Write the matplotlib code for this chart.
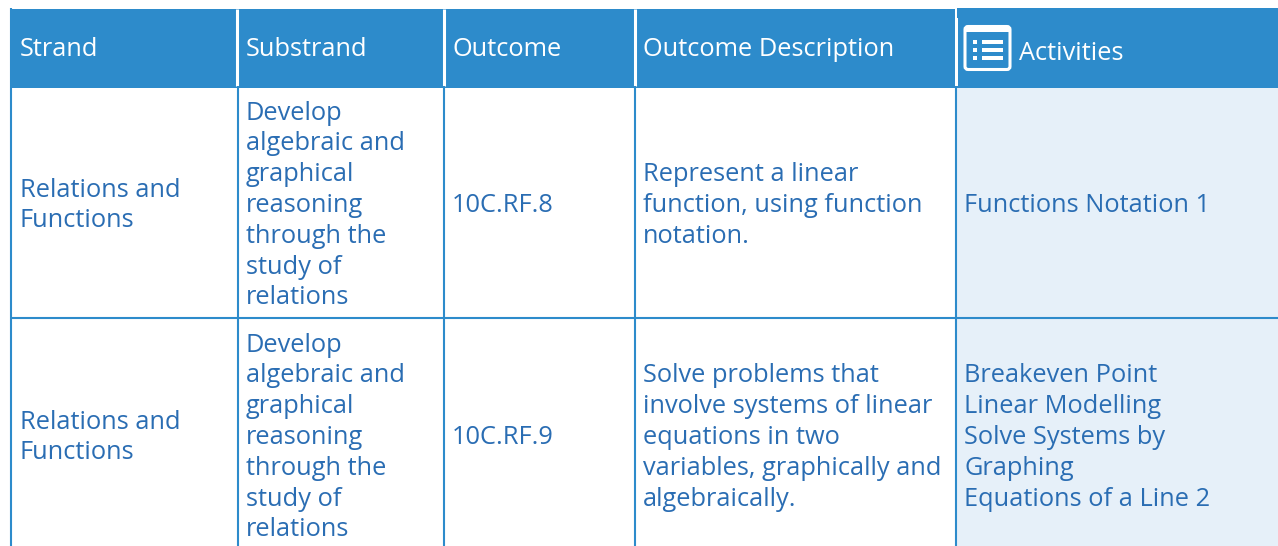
import matplotlib
matplotlib.use("Agg")
import matplotlib.pyplot as plt
from matplotlib.patches import Rectangle, FancyBboxPatch

FONT = "Open Sans"
HEAD_BLUE = "#2d8bcb"
LINE_BLUE = "#2d8bcb"
TEXT_BLUE = "#2a6db3"
PALE_BLUE = "#e6f0f9"

headers = ["Strand", "Substrand", "Outcome", "Outcome Description", "Activities"]
strand = [["Relations and", "Functions"], ["Relations and", "Functions"]]
substrand = [
    ["Develop", "algebraic and", "graphical", "reasoning", "through the", "study of", "relations"],
    ["Develop", "algebraic and", "graphical", "reasoning", "through the", "study of", "relations"],
]
outcome = [["10C.RF.8"], ["10C.RF.9"]]
description = [
    ["Represent a linear", "function, using function", "notation."],
    ["Solve problems that", "involve systems of linear", "equations in two", "variables, graphically and", "algebraically."],
]
activities = [
    ["Functions Notation 1"],
    ["Breakeven Point", "Linear Modelling", "Solve Systems by", "Graphing", "Equations of a Line 2"],
]

col_edges = [10, 238, 444, 635, 956, 1278]
white_x = [237, 443.5, 634.5]
text_x = [20, 246, 452, 643, 964]
head_top, head_bot = 9, 88
row_edges = [88, 318, 546]
row_mid = [203, 435]
pitch = 30.8
base_off = 9
size = 25.4 * 0.72
rule_lw = 1.5

fig = plt.figure(figsize=(12.78, 5.46), dpi=100)
ax = fig.add_axes([0, 0, 1, 1])
ax.set_xlim(0, 1278)
ax.set_ylim(546, 0)
ax.axis("off")

# Activities column background
ax.add_patch(Rectangle((col_edges[4], row_edges[0]), col_edges[5] - col_edges[4],
                       row_edges[2] - row_edges[0], fc=PALE_BLUE, ec="none"))
# Header band
ax.add_patch(Rectangle((col_edges[0], head_top), col_edges[5] - col_edges[0],
                       head_bot - head_top, fc=HEAD_BLUE, ec="none"))
ax.add_patch(Rectangle((957, 8), 321, 2, fc=HEAD_BLUE, ec="none"))

# Header separators (white) and body rules (blue)
for x in white_x:
    ax.plot([x, x], [head_top, 86], color="white", lw=2.2, solid_capstyle="butt")
ax.add_patch(Rectangle((955, 8), 2, 10, fc="white", ec="none"))
ax.add_patch(Rectangle((955, 18), 3, 68, fc="white", ec="none"))
ax.plot([11.3, 11.3], [8, 546], color=LINE_BLUE, lw=rule_lw, solid_capstyle="butt")
for x in col_edges[1:5]:
    ax.plot([x, x], [86, 546], color=LINE_BLUE, lw=rule_lw, solid_capstyle="butt")
ax.plot([10, 1278], [318, 318], color=LINE_BLUE, lw=rule_lw, solid_capstyle="butt")

# Header text
for i, (label, x) in enumerate(zip(headers, text_x)):
    tx = 1019 if i == 4 else x
    ty = 56 if i < 4 else 60
    ax.text(tx, ty, label, color="white", fontsize=size, family=FONT,
            va="baseline", ha="left")

# Icon
ax.add_patch(FancyBboxPatch((965, 26.5), 45, 43, boxstyle="round,pad=0,rounding_size=3",
                            fc="none", ec="white", lw=2.2))
ax.add_patch(Rectangle((965, 26.5), 45, 5, fc="white", ec="none"))
for y in (42, 50, 58):
    ax.add_patch(Rectangle((973, y - 1.6), 4, 3.2, fc="white", ec="none"))
    ax.add_patch(Rectangle((982, y - 1.6), 21, 3.2, fc="white", ec="none"))

# Body text
columns = [strand, substrand, outcome, description, activities]
for col, x in zip(columns, text_x):
    for r, lines in enumerate(col):
        for j, line in enumerate(lines):
            y = row_mid[r] + (j - (len(lines) - 1) / 2) * pitch + base_off
            ax.text(x, y, line, color=TEXT_BLUE, fontsize=size, family=FONT,
                    va="baseline", ha="left")

fig.savefig("out.png", dpi=100)
